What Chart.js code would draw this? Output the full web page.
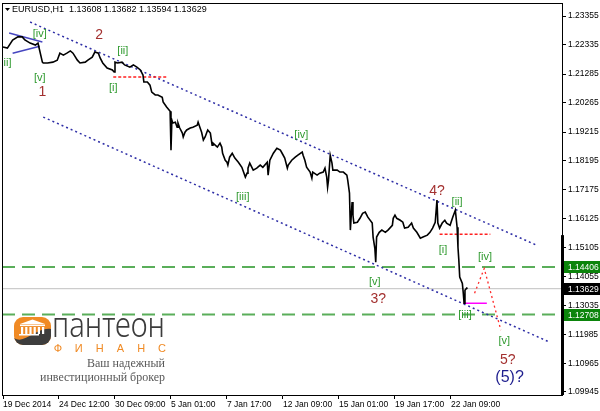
<!DOCTYPE html>
<html>
<head>
<meta charset="utf-8">
<script src="https://cdn.jsdelivr.net/npm/chart.js@4.4.1/dist/chart.umd.min.js"></script>
<style>
html, body { margin: 0; padding: 0; background: #fff; }
canvas { display: block; }
</style>
</head>
<body>
<canvas id="Chart" width="600" height="411"></canvas>
<script>
// hourly closes, x = bar number counted from the first visible bar
var hourBar = [
  0, 5, 11, 17, 22, 25, 31, 37, 40, 41,
  45, 46, 51, 57, 62, 65, 69, 73, 77, 80,
  85, 88, 94, 97, 102, 105, 109, 111, 114, 119,
  125, 127, 128, 131, 136, 139, 145, 149, 153, 157,
  160, 161, 165, 168, 170, 174, 177, 182, 183, 187,
  191, 192, 193, 194, 197, 199, 200, 202, 205, 206,
  208, 210, 214, 217, 222, 223, 225, 227, 229, 231,
  233, 234, 237, 239, 240, 245, 248, 250, 251, 254,
  256, 257, 259, 262, 265, 269, 273, 277, 279, 280,
  282, 286, 290, 294, 297, 302, 303, 305, 309, 313,
  317, 319, 322, 325, 326, 330, 334, 337, 342, 343,
  345, 347, 351, 353, 354, 359, 362, 366, 368, 370,
  371, 372, 374, 376, 377, 382, 385, 389, 393, 394,
  396, 397, 399, 400, 401, 405, 408, 411, 414, 417,
  422, 423, 425, 426, 427, 430, 433, 437, 440, 445,
  446, 448, 450, 454, 457, 459, 463, 467, 469, 473,
  477, 480, 485, 488, 491, 494, 496, 497, 499, 502,
  505, 507, 511, 514, 517, 519, 520, 521, 522, 525,
  526, 527, 528, 530, 531
];
var closePrice = [
  1.2225, 1.2221, 1.2250, 1.2261, 1.2261, 1.2250, 1.2239, 1.2232, 1.2239, 1.2225,
  1.2171, 1.2168, 1.2168, 1.2171, 1.2178, 1.2203, 1.2196, 1.2203, 1.2211, 1.2203,
  1.2178, 1.2168, 1.2171, 1.2178, 1.2189, 1.2207, 1.2203, 1.2186, 1.2168, 1.2150,
  1.2143, 1.2136, 1.2171, 1.2168, 1.2171, 1.2161, 1.2153, 1.2161, 1.2153, 1.2143,
  1.2125, 1.2100, 1.2100, 1.2089, 1.2064, 1.2054, 1.2054, 1.2046, 1.2029, 1.2011,
  1.1996, 1.1857, 1.1964, 1.1954, 1.1957, 1.1939, 1.1954, 1.1936, 1.1918, 1.1904,
  1.1921, 1.1929, 1.1936, 1.1939, 1.1946, 1.1957, 1.1939, 1.1921, 1.1893, 1.1904,
  1.1921, 1.1929, 1.1918, 1.1875, 1.1882, 1.1868, 1.1882, 1.1868, 1.1846, 1.1821,
  1.1814, 1.1804, 1.1832, 1.1846, 1.1829, 1.1814, 1.1796, 1.1761, 1.1775, 1.1793,
  1.1811, 1.1786, 1.1793, 1.1804, 1.1796, 1.1814, 1.1768, 1.1821, 1.1846, 1.1864,
  1.1857, 1.1846, 1.1829, 1.1793, 1.1804, 1.1821, 1.1832, 1.1839, 1.1850, 1.1839,
  1.1821, 1.1796, 1.1779, 1.1757, 1.1779, 1.1768, 1.1775, 1.1779, 1.1793, 1.1761,
  1.1725, 1.1750, 1.1839, 1.1811, 1.1786, 1.1786, 1.1779, 1.1779, 1.1768, 1.1750,
  1.1704, 1.1572, 1.1672, 1.1625, 1.1597, 1.1600, 1.1614, 1.1632, 1.1636, 1.1618,
  1.1597, 1.1547, 1.1507, 1.1457, 1.1547, 1.1564, 1.1572, 1.1564, 1.1572, 1.1589,
  1.1614, 1.1625, 1.1614, 1.1607, 1.1600, 1.1579, 1.1582, 1.1597, 1.1579, 1.1564,
  1.1543, 1.1547, 1.1554, 1.1564, 1.1579, 1.1600, 1.1679, 1.1597, 1.1579, 1.1597,
  1.1607, 1.1597, 1.1589, 1.1618, 1.1643, 1.1582, 1.1511, 1.1464, 1.1404, 1.1382,
  1.1350, 1.1311, 1.1357, 1.1365, 1.13629
];

var xTickBars = [0, 64, 128, 192, 256, 320, 384, 448, 512];
var xTickLabels = ["19 Dec 2014", "24 Dec 12:00", "30 Dec 09:00", "5 Jan 01:00", "7 Jan 17:00",
                   "12 Jan 09:00", "15 Jan 01:00", "19 Jan 17:00", "22 Jan 09:00"];
var yTicks = [1.23355, 1.22335, 1.21285, 1.20265, 1.19215, 1.18195, 1.17175,
              1.16125, 1.15105, 1.14055, 1.13035, 1.11985, 1.10965, 1.09945];

// drawn objects
var upperChannelBars = [31, 610], upperChannelPrices = [1.2314, 1.1518];
var lowerChannelBars = [46, 625], lowerChannelPrices = [1.1975, 1.1172];
var wedgeTopBars = [7, 45], wedgeTopPrices = [1.2275, 1.2243];
var wedgeLowBars = [11, 42], wedgeLowPrices = [1.2203, 1.2228];
var redLevel1Bars = [126, 187], redLevel1 = 1.2118;
var redLevel2Bars = [499, 557], redLevel2 = 1.1557;
var magentaBars = [526, 553], magentaLevel = 1.1311;
var forecastBars = [539, 550, 569], forecastPrices = [1.1347, 1.1435, 1.1215];
var greenLevels = [1.14406, 1.12708];
var lastPrice = 1.13629;

var waveText  = ["[iii]", "[iv]", "[v]", "1", "2", "[ii]", "[i]", "[iii]", "[iv]", "[v]", "3?",
                 "4?", "[i]", "[ii]", "[iii]", "[iv]", "[v]", "5?", "(5)?"];
var waveBar   = [2, 42, 42, 45, 110, 137, 126, 274, 341, 425, 429,
                 496, 503, 519, 528, 551, 573, 577, 579];
var wavePrice = [1.2168, 1.2271, 1.2114, 1.2064, 1.2268, 1.2211, 1.2078, 1.1689, 1.1911, 1.1386, 1.1325,
                 1.1711, 1.1500, 1.1672, 1.1268, 1.1475, 1.1175, 1.1107, 1.1047];
var waveKind  = ["g", "g", "g", "r", "r", "g", "g", "g", "g", "g", "r",
                 "r", "g", "g", "g", "g", "g", "r", "b"];

var xMin = -1.143, xMax = 638.9;
var yMin = 1.09838, yMax = 1.23819;
var tickFont = { family: "Liberation Sans", size: 8.5 };

function seg(bars, prices, color, width, dash) {
  var pts = [];
  for (var i = 0; i < bars.length; i++) pts.push({ x: bars[i], y: prices[i] });
  return { data: pts, borderColor: color, borderWidth: width, borderDash: dash || [],
           pointRadius: 0, fill: false, tension: 0 };
}

var priceData = [];
for (var i = 0; i < hourBar.length; i++) priceData.push({ x: hourBar[i], y: closePrice[i] });

var wavePlugin = {
  id: 'waves',
  afterDatasetsDraw: function(chart) {
    var c = chart.ctx, xs = chart.scales.x, ys = chart.scales.y, a = chart.chartArea;
    c.save();
    c.beginPath();
    c.rect(a.left, a.top, a.right - a.left, a.bottom - a.top);
    c.clip();
    c.textAlign = 'center';
    c.textBaseline = 'middle';
    for (var i = 0; i < waveText.length; i++) {
      if (waveKind[i] == "g") { c.font = '11px "Liberation Sans"'; c.fillStyle = '#2f9a2f'; }
      else if (waveKind[i] == "r") { c.font = '14px "Liberation Sans"'; c.fillStyle = '#a3302f'; }
      else { c.font = '16px "Liberation Sans"'; c.fillStyle = '#1e1e8e'; }
      c.fillText(waveText[i], xs.getPixelForValue(waveBar[i]), ys.getPixelForValue(wavePrice[i]));
    }
    c.restore();
  }
};

var logoPlugin = {
  id: 'logo',
  beforeDatasetsDraw: function(chart) {
    var c = chart.ctx;
    c.save();
    // icon
    c.save();
    c.beginPath();
    c.roundRect(14, 317, 37, 28, 9);
    c.clip();
    c.fillStyle = '#f08a24';
    c.fillRect(14, 317, 37, 28);
    c.fillStyle = '#3d3d3d';
    c.beginPath();
    c.moveTo(14, 345); c.lineTo(14, 338);
    c.bezierCurveTo(25, 345, 36, 327, 51, 329);
    c.lineTo(51, 345); c.closePath(); c.fill();
    c.fillStyle = '#fff';
    c.beginPath(); c.moveTo(20, 324); c.lineTo(32.5, 319.5); c.lineTo(45, 324); c.closePath(); c.fill();
    c.fillRect(20, 324.5, 25, 1.6);
    for (var k = 0; k < 6; k++) c.fillRect(21 + k * 4.2, 327, 2.2, 7);
    c.fillRect(19, 334, 20, 1.5);
    c.restore();

    c.textAlign = 'left';
    c.textBaseline = 'alphabetic';
    c.fillStyle = '#3c3c3c';
    c.font = '300 34px "Noto Sans"';
    var w = c.measureText('пантеон').width;
    c.save(); c.translate(52, 337); c.scale(113 / w, 1); c.fillText('пантеон', 0, 0); c.restore();

    c.fillStyle = '#f08a24';
    c.font = '11px "Liberation Sans"';
    c.textAlign = 'center';
    c.textBaseline = 'middle';
    var fin = ['Ф', 'И', 'Н', 'А', 'Н', 'С'];
    for (var k = 0; k < fin.length; k++) c.fillText(fin[k], 58 + k * 20.8, 349);

    c.fillStyle = '#585858';
    c.font = '12px "Liberation Serif"';
    c.textAlign = 'left';
    c.textBaseline = 'alphabetic';
    var t1 = 'Ваш надежный', t2 = 'инвестиционный брокер';
    var w1 = c.measureText(t1).width, w2 = c.measureText(t2).width;
    c.save(); c.translate(87, 367); c.scale(78 / w1, 1); c.fillText(t1, 0, 0); c.restore();
    c.save(); c.translate(40, 381); c.scale(125 / w2, 1); c.fillText(t2, 0, 0); c.restore();
    c.restore();
  }
};

var framePlugin = {
  id: 'frame',
  afterDraw: function(chart) {
    var c = chart.ctx, ys = chart.scales.y, a = chart.chartArea;
    c.save();
    c.strokeStyle = '#000';
    c.lineWidth = 1;
    c.beginPath();
    c.moveTo(a.left, a.top + 0.5); c.lineTo(a.right, a.top + 0.5);
    c.moveTo(a.left + 0.5, a.top); c.lineTo(a.left + 0.5, a.bottom);
    c.stroke();
    // thick part of the price scale
    var yTop = ys.getPixelForValue(1.1554);
    c.fillStyle = '#000';
    c.fillRect(a.right - 1, yTop, 3, a.bottom - yTop);

    // price boxes
    var boxes = [[greenLevels[0], '#0b840b'], [lastPrice, '#000'], [greenLevels[1], '#0b840b']];
    c.font = '8.5px "Liberation Sans"';
    c.textAlign = 'left';
    c.textBaseline = 'middle';
    for (var i = 0; i < boxes.length; i++) {
      var y = Math.round(ys.getPixelForValue(boxes[i][0]));
      c.fillStyle = boxes[i][1];
      c.fillRect(a.right + 2, y - 6, chart.width - a.right - 2, 12);
      c.fillStyle = '#fff';
      c.fillText(boxes[i][0].toFixed(5), a.right + 6, y + 0.5);
    }

    // title
    c.fillStyle = '#000';
    c.beginPath(); c.moveTo(5, 8); c.lineTo(10, 8); c.lineTo(7.5, 11); c.closePath(); c.fill();
    c.font = '9px "Liberation Sans"';
    c.fillText('EURUSD,H1  1.13608 1.13682 1.13594 1.13629', 12, 10);
    c.restore();
  }
};

var chart = new Chart(document.getElementById('Chart'), {
  type: 'line',
  data: {
    datasets: [
      { data: priceData, borderColor: '#000', borderWidth: 1.6, pointRadius: 0, fill: false, tension: 0 },
      seg(magentaBars, [magentaLevel, magentaLevel], '#ff00ff', 1.5),
      seg(forecastBars, forecastPrices, '#ff2a2a', 1.3, [2, 3]),
      seg(redLevel1Bars, [redLevel1, redLevel1], '#ff2020', 1.5, [3, 2]),
      seg(redLevel2Bars, [redLevel2, redLevel2], '#ff2020', 1.5, [3, 2]),
      seg(wedgeTopBars, wedgeTopPrices, '#4646c0', 1.5),
      seg(wedgeLowBars, wedgeLowPrices, '#4646c0', 1.5),
      seg(upperChannelBars, upperChannelPrices, '#2e2ea6', 1.5, [2, 3]),
      seg(lowerChannelBars, lowerChannelPrices, '#2e2ea6', 1.5, [2, 3]),
      seg([xMin, xMax], [greenLevels[0], greenLevels[0]], '#5aae5a', 2, [13, 7]),
      seg([xMin, xMax], [greenLevels[1], greenLevels[1]], '#5aae5a', 2, [13, 7]),
      seg([xMin, xMax], [lastPrice, lastPrice], '#c0c0c0', 1)
    ]
  },
  options: {
    responsive: false,
    animation: false,
    devicePixelRatio: 1,
    layout: { padding: { top: 3, left: 2, right: 0, bottom: 0 } },
    plugins: { legend: { display: false }, tooltip: { enabled: false } },
    scales: {
      x: {
        type: 'linear',
        min: xMin,
        max: xMax,
        position: 'bottom',
        afterBuildTicks: function(scale) {
          scale.ticks = xTickBars.map(function(v) { return { value: v }; });
        },
        afterFit: function(scale) {
          scale.height = 16;
          scale.paddingLeft = 0; scale.paddingRight = 0;
        },
        ticks: {
          callback: function(v) { return xTickLabels[xTickBars.indexOf(v)]; },
          align: 'start',
          maxRotation: 0, minRotation: 0, autoSkip: false,
          padding: 1,
          color: '#000',
          font: tickFont
        },
        grid: { drawOnChartArea: false, drawTicks: true, tickLength: 4, color: '#000' },
        border: { display: true, color: '#000', width: 1 }
      },
      y: {
        position: 'right',
        min: yMin,
        max: yMax,
        afterBuildTicks: function(scale) {
          scale.ticks = yTicks.map(function(v) { return { value: v }; });
        },
        afterFit: function(scale) {
          scale.width = 38;
          scale.paddingTop = 0; scale.paddingBottom = 0;
        },
        ticks: {
          callback: function(v) { return v.toFixed(5); },
          crossAlign: 'near',
          padding: 2,
          color: '#000',
          font: tickFont
        },
        grid: { drawOnChartArea: false, drawTicks: true, tickLength: 4, color: '#000' },
        border: { display: true, color: '#000', width: 1 }
      }
    }
  },
  plugins: [logoPlugin, wavePlugin, framePlugin]
});
</script>
</body>
</html>
